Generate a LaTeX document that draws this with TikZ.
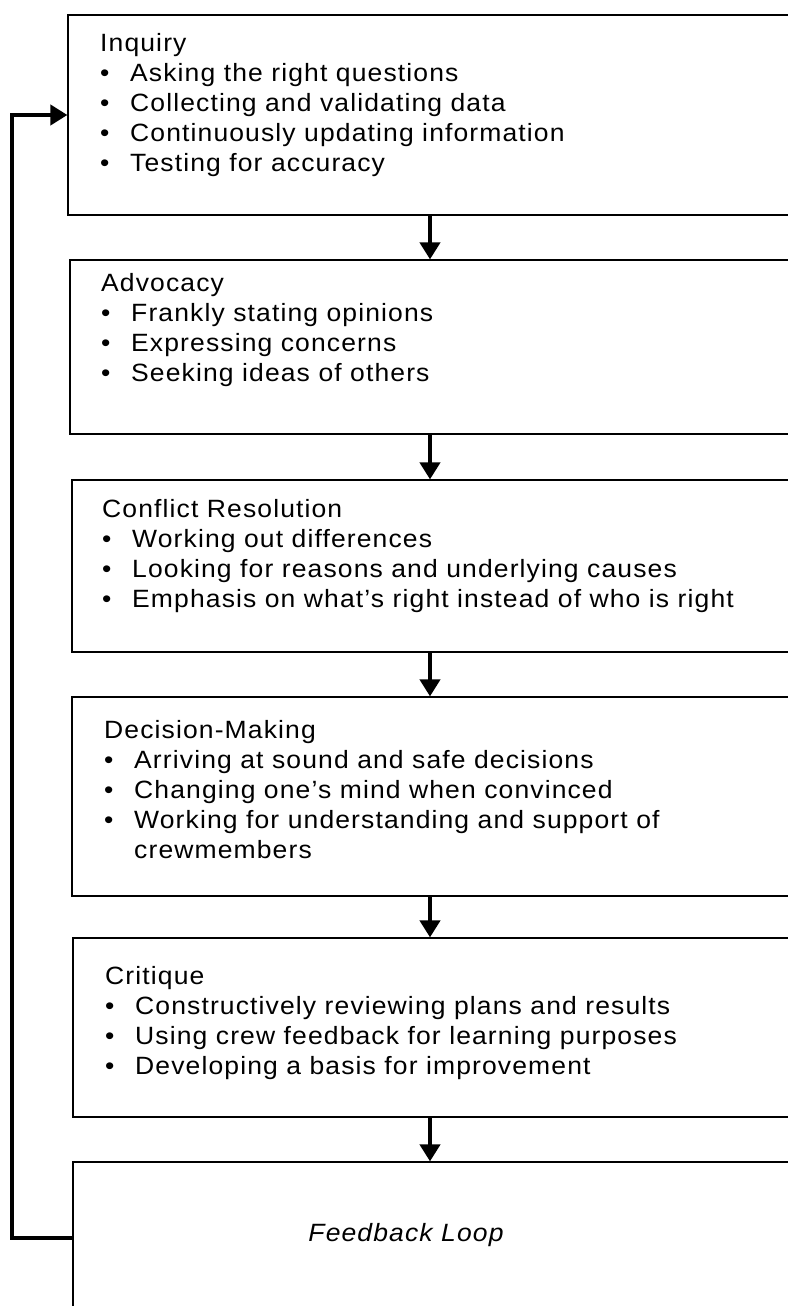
\documentclass[tikz,border=0pt]{standalone}
\usepackage{fontspec}
\setmainfont{Liberation Sans}[FakeStretch=1.06,LetterSpace=4.5]
\usetikzlibrary{arrows.meta,fit,positioning}

\tikzset{
  stage/.style={draw, line width=1.2pt, inner sep=0pt},
  stagetext/.style={anchor=north west, inner sep=0pt, align=left,
    font=\fontsize{25}{30}\selectfont},
  flow/.style={line width=4pt, -{Triangle[width=20pt,length=17pt]}},
}
\newcommand{\bul}{\makebox[30pt][l]{\textbullet}}

\begin{document}
\begin{tikzpicture}[x=1pt,y=-1pt]
\useasboundingbox (0,0) rectangle (787,1306);
% the stages, open to the right edge
\node[stage, fit={(68,15) (800,215)}] (inquiry) {};
\node[stage, fit={(70,260) (800,434)}] (advocacy) {};
\node[stage, fit={(72,480) (800,652)}] (conflict) {};
\node[stage, fit={(72,697) (800,896)}] (decision) {};
\node[stage, fit={(73,938) (800,1117)}] (critique) {};
\node[stage, fit={(73,1162) (800,1340)}] (feedback) {};

\node[stagetext] (inquiry-t) at (100,33) {Inquiry\\
  \bul Asking the right questions\\
  \bul Collecting and validating data\\
  \bul Continuously updating information\\
  \bul Testing for accuracy};
\node[stagetext] (advocacy-t) at (101,273) {Advocacy\\
  \bul Frankly stating opinions\\
  \bul Expressing concerns\\
  \bul Seeking ideas of others};
\node[stagetext] (conflict-t) at (102,499) {Conflict Resolution\\
  \bul Working out differences\\
  \bul Looking for reasons and underlying causes\\
  \bul Emphasis on what's right instead of who is right};
\node[stagetext] (decision-t) at (104,720) {Decision-Making\\
  \bul Arriving at sound and safe decisions\\
  \bul Changing one's mind when convinced\\
  \bul Working for understanding and support of\\
  \hspace*{30pt}crewmembers};
\node[stagetext] (critique-t) at (105,966) {Critique\\
  \bul Constructively reviewing plans and results\\
  \bul Using crew feedback for learning purposes\\
  \bul Developing a basis for improvement};
\node[font=\fontsize{25}{30}\selectfont\itshape, inner sep=0pt] (feedback-t) at (406,1235) {Feedback Loop};

% arrows down the spine
\coordinate (spine) at (430,0);
\foreach \a/\b in {inquiry/advocacy, advocacy/conflict, conflict/decision,
                   decision/critique, critique/feedback}
  \draw[flow] (\a.south -| spine) -- (\b.north -| spine);

% feedback loop back to the top
\coordinate (loopcorner) at (12,1238);
\draw[flow] (feedback.west |- loopcorner) -- (loopcorner) |- (inquiry.west);
\end{tikzpicture}
\end{document}
